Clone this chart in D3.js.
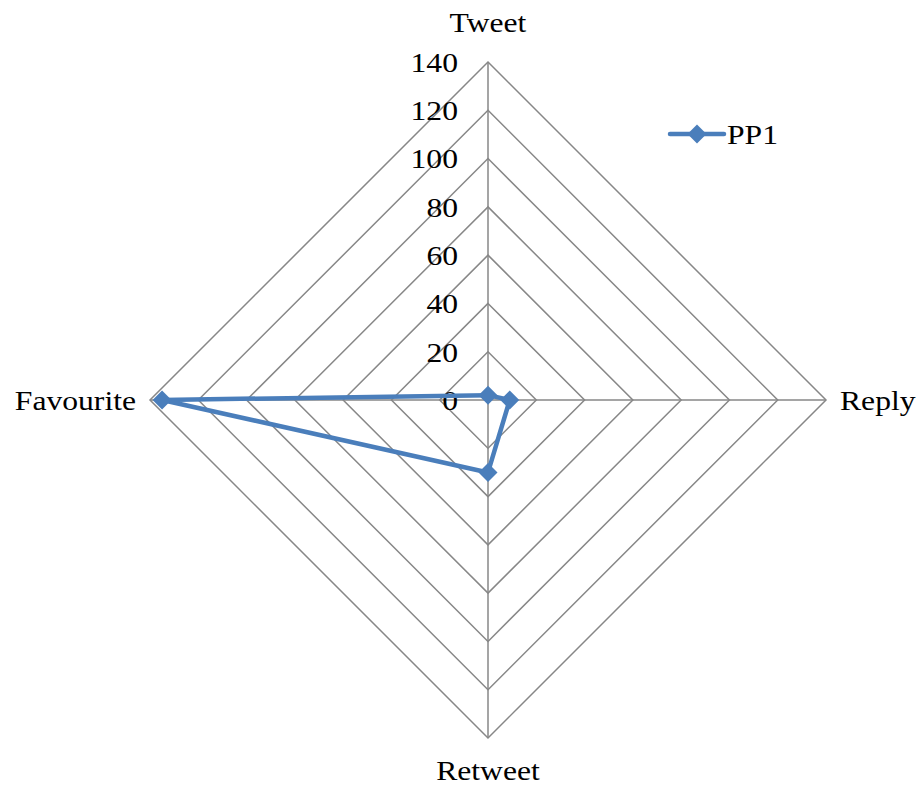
<!DOCTYPE html>
<html>
<head>
<meta charset="utf-8">
<script src="https://cdn.jsdelivr.net/npm/d3@7"></script>
<style>
  html, body { margin: 0; padding: 0; background: #fff; }
  svg text { font-family: "Liberation Serif", "Times New Roman", serif; fill: #000; }
</style>
</head>
<body>
<svg id="chart" width="918" height="786"></svg>
<script>
// Radar chart: one series over four engagement categories
const categories = ["Tweet", "Reply", "Retweet", "Favourite"];
const seriesName = "PP1";
const seriesValues = [2, 9, 30, 135];
const tickValues = [0, 20, 40, 60, 80, 100, 120, 140];

const svg = d3.select("#chart");
const cx = 488, cy = 400, R = 338;
const r = d3.scaleLinear().domain([0, 140]).range([0, R]);
// four spokes: up, right, down, left
const ang = c => categories.indexOf(c) * Math.PI / 2;
const pt = (c, v) => [cx + r(v) * Math.sin(ang(c)), cy - r(v) * Math.cos(ang(c))];
// slightly wide serif lettering
const place = (x, y) => `translate(${x},${y}) scale(1.13,1)`;

const grid = svg.append("g");
// concentric rings
tickValues.filter(t => t > 0).forEach(t => {
  grid.append("path")
    .attr("d", d3.line()(categories.map(c => pt(c, t))) + "Z")
    .attr("fill", "none").attr("stroke", "#878787").attr("stroke-width", 1.5);
});
// spokes
categories.forEach(c => {
  const [x, y] = pt(c, 140);
  grid.append("line").attr("x1", cx).attr("y1", cy).attr("x2", x).attr("y2", y)
    .attr("stroke", "#878787").attr("stroke-width", 1.5);
});

// radial tick labels along the top spoke
svg.append("g").selectAll("text").data(tickValues).join("text")
  .attr("transform", d => place(cx - 30, cy - r(d)))
  .attr("dy", "0.35em").attr("text-anchor", "end")
  .attr("font-size", 28).text(d => d);

// category labels
const labelPos = {
  Tweet: { x: cx, y: cy - R - 40, anchor: "middle" },
  Reply: { x: cx + R + 14, y: cy, anchor: "start" },
  Retweet: { x: cx, y: cy + R + 32, anchor: "middle" },
  Favourite: { x: cx - R - 14, y: cy, anchor: "end" }
};
svg.append("g").selectAll("text").data(categories).join("text")
  .attr("transform", d => place(labelPos[d].x, labelPos[d].y))
  .attr("dy", "0.35em").attr("text-anchor", d => labelPos[d].anchor)
  .attr("font-size", 28).text(d => d);

// series line and markers
const color = "#4a7ebb";
const pts = categories.map((c, i) => pt(c, seriesValues[i]));
svg.append("path").attr("d", d3.line()(pts) + "Z")
  .attr("fill", "none").attr("stroke", color).attr("stroke-width", 4.5)
  .attr("stroke-linejoin", "round");
const diamond = d3.symbol().type(d3.symbolDiamond2).size(230);
svg.append("g").selectAll("path").data(pts).join("path")
  .attr("transform", d => `translate(${d[0]},${d[1]})`)
  .attr("d", diamond).attr("fill", color);

// legend
const lg = svg.append("g").attr("transform", "translate(670,134)");
lg.append("line").attr("x1", 0).attr("x2", 54).attr("stroke", color).attr("stroke-width", 4.5)
  .attr("stroke-linecap", "round");
lg.append("path").attr("transform", "translate(27,0)").attr("d", diamond).attr("fill", color);
lg.append("text").attr("transform", place(57, 0)).attr("dy", "0.35em").attr("font-size", 28).text(seriesName);
</script>
</body>
</html>
